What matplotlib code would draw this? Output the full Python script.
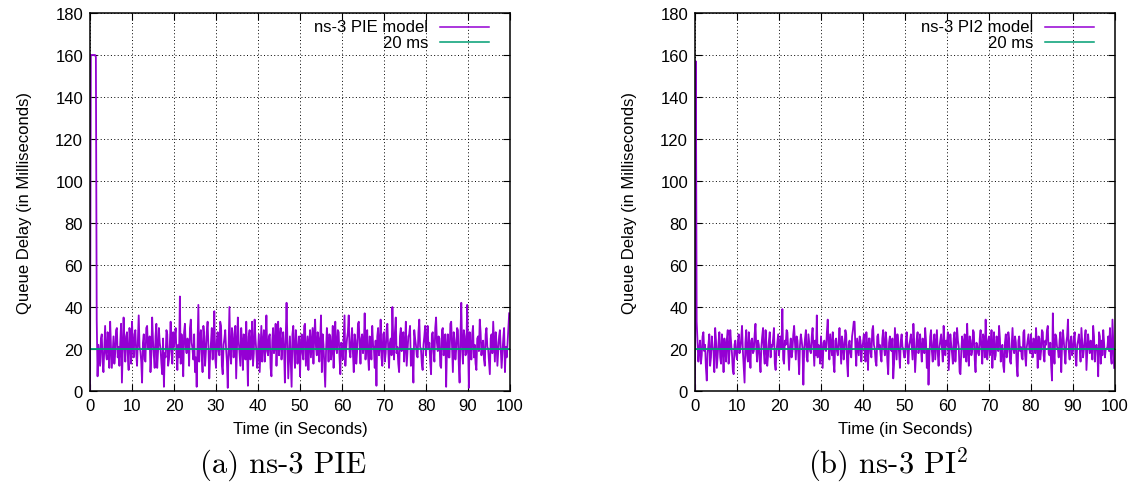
import numpy as np
import matplotlib.pyplot as plt

plt.rcParams['font.family'] = ['Liberation Sans', 'DejaVu Sans']
plt.rcParams['mathtext.fontset'] = 'cm'

# queue delay samples (ms), one every 0.2 s
step = 0.2
pie_delay = [
    0, 160, 160, 160, 160, 160, 160, 159, 34, 7, 22, 17, 12, 25, 27, 14, 9, 20, 31, 18,
    15, 28, 24, 11, 33, 21, 11, 19, 26, 13, 18, 29, 30, 16, 21, 12, 23, 32, 4, 19,
    35, 22, 14, 26, 28, 17, 10, 30, 25, 13,
    33, 22, 16, 27, 29, 18, 12, 24, 36, 21, 19, 14, 4, 23, 27, 15, 14, 30, 31, 20,
    22, 26, 9, 17, 35, 24, 17, 11, 26, 32, 11, 19, 30, 23, 20, 13, 8, 25, 2, 18,
    16, 29, 27, 12, 15, 22, 33, 19, 13, 28,
    21, 26, 30, 17, 10, 22, 16, 45, 13, 27, 19, 7, 28, 32, 21, 18, 25, 24, 12, 30,
    34, 23, 20, 15, 27, 9, 16, 2, 22, 41, 14, 25, 29, 18, 9, 31, 26, 12, 19, 28,
    33, 21, 6, 17, 23, 30, 15, 24, 38, 16,
    11, 24, 28, 19, 17, 33, 31, 12, 8, 22, 25, 29, 20, 14, 1.5, 21, 40, 17, 13, 30,
    27, 16, 22, 31, 6, 20, 35, 24, 18, 12, 30, 23, 10, 27, 24, 15, 33, 19, 2.5, 26,
    29, 15, 21, 33, 12, 18, 34, 25, 19, 11,
    19, 27, 9, 20, 31, 14, 23, 29, 14, 21, 36, 19, 17, 26, 27, 11, 7, 24, 30, 18,
    21, 32, 12, 25, 33, 17, 25, 30, 15, 22, 28, 20, 4, 25, 42, 23, 6, 16, 26, 14,
    2, 27, 31, 19, 11, 29, 24, 13, 20, 26,
    7, 22, 27, 18, 15, 31, 32, 12, 19, 26, 10, 23, 29, 16, 23, 30, 13, 27, 34, 21,
    17, 28, 25, 14, 24, 36, 9, 27, 22, 12, 2, 19, 30, 24, 14, 27, 26, 15, 20, 31,
    11, 24, 33, 20, 18, 29, 28, 16, 8, 23,
    21, 15, 26, 36, 12, 20, 25, 28, 36, 19, 16, 24, 30, 18, 9, 27, 24, 13, 19, 32,
    33, 22, 13, 25, 27, 18, 21, 37, 15, 24, 29, 17, 10, 26, 23, 15, 31, 22, 20, 11,
    24, 2.5, 26, 30, 17, 21, 34, 16, 12, 27,
    28, 14, 18, 29, 32, 20, 11, 23, 25, 17, 40, 24, 15, 28, 35, 18, 21, 13, 9, 26,
    30, 19, 24, 28, 14, 22, 33, 12, 19, 26, 27, 31, 12, 20, 16, 4, 29, 25, 22, 17,
    16, 28, 34, 21, 20, 13, 10, 22, 26, 31,
    17, 25, 31, 20, 23, 14, 8, 27, 28, 19, 14, 30, 35, 23, 19, 26, 25, 12, 11, 29,
    30, 17, 21, 27, 2, 21, 27, 16, 16, 32, 33, 21, 9, 28, 24, 15, 20, 30, 29, 13,
    4, 26, 42, 20, 13, 29, 26, 17, 18, 41,
    24, 1.5, 28, 21, 15, 27, 31, 16, 22, 13, 10, 25, 26, 19, 34, 28, 17, 22, 24, 15,
    12, 27, 30, 21, 20, 14, 8, 25, 27, 18, 33, 23, 14, 28, 23, 12, 19, 26, 29, 20,
    11, 18, 25, 30, 9, 21, 16, 22, 30, 37,
]
pi2_delay = [
    0, 157, 33, 24, 14, 20, 24, 13, 17, 26, 28, 19, 22, 11, 5, 18, 22, 27, 12, 16,
    26, 21, 19, 9, 30, 24, 11, 17, 23, 28, 16, 13, 27, 22, 9, 25, 21, 14, 25, 29,
    13, 18, 29, 23, 18, 10, 8, 22, 24, 17,
    15, 23, 27, 18, 20, 25, 31, 19, 11, 4, 23, 29, 17, 14, 28, 21, 11, 24, 25, 18,
    19, 27, 32, 20, 14, 24, 22, 15, 9, 21, 26, 30, 18, 13, 29, 22, 12, 17, 24, 28,
    16, 22, 21, 25, 30, 13, 10, 19, 23, 27,
    17, 22, 26, 20, 39, 15, 13, 24, 22, 29, 28, 19, 10, 21, 25, 16, 19, 27, 31, 23,
    15, 26, 24, 17, 8, 22, 27, 24, 20, 3, 20, 25, 29, 16, 14, 27, 23, 19, 18, 26,
    30, 21, 12, 24, 17, 36, 16, 22, 21, 13,
    26, 18, 11, 23, 24, 20, 19, 28, 34, 22, 15, 27, 22, 17, 28, 13, 9, 24, 25, 19,
    17, 23, 30, 21, 13, 26, 23, 15, 20, 29, 27, 14, 7, 22, 24, 18, 16, 26, 29, 33,
    33, 20, 12, 25, 21, 17, 26, 24, 14, 21,
    23, 27, 18, 14, 28, 21, 10, 25, 25, 18, 16, 29, 31, 22, 20, 14, 12, 26, 27, 20,
    22, 17, 14, 25, 29, 21, 17, 28, 24, 14, 8, 23, 26, 20, 19, 25, 6, 13, 30, 22,
    15, 27, 23, 18, 11, 24, 27, 21, 20, 16,
    16, 24, 28, 19, 13, 22, 24, 27, 21, 15, 32, 23, 9, 17, 25, 28, 18, 21, 27, 20,
    14, 25, 22, 18, 30, 24, 11, 20, 3, 16, 26, 29, 19, 14, 23, 27, 15, 22, 29, 18,
    12, 21, 24, 27, 20, 14, 31, 23, 17, 24,
    22, 28, 10, 18, 27, 22, 18, 13, 25, 28, 14, 21, 30, 24, 21, 9, 8, 19, 26, 23,
    16, 27, 23, 14, 32, 20, 12, 26, 24, 17, 19, 29, 28, 15, 9, 23, 22, 18, 17, 25,
    29, 20, 13, 27, 25, 16, 34, 21, 15, 24,
    26, 17, 20, 29, 11, 22, 28, 15, 17, 26, 24, 19, 31, 25, 14, 21, 22, 12, 9, 23,
    27, 16, 19, 28, 25, 14, 13, 22, 30, 20, 18, 26, 23, 12, 7, 24, 26, 19, 21, 16,
    15, 28, 29, 17, 12, 21, 24, 27, 20, 18,
    27, 20, 16, 25, 23, 18, 30, 22, 11, 26, 25, 15, 19, 29, 28, 17, 14, 24, 22, 29,
    31, 18, 17, 23, 12, 5, 37, 19, 13, 27, 26, 21, 20, 16, 24, 28, 9, 22, 29, 24,
    18, 13, 23, 26, 34, 19, 15, 24, 26, 17,
    19, 25, 28, 16, 12, 22, 24, 27, 21, 14, 30, 23, 16, 20, 25, 29, 10, 18, 27, 22,
    18, 24, 23, 15, 31, 26, 14, 21, 22, 19, 7, 28, 26, 13, 24, 17, 29, 23, 16, 20,
    20, 21, 26, 19, 30, 17, 13, 34, 22, 11,
]
target_delay = 20

model_names = ['ns-3 PIE model', 'ns-3 PI2 model']
captions = ['(a) ns-3 PIE', '(b) ns-3 PI$^2$']
x_ticks = list(range(0, 101, 10))
y_ticks = list(range(0, 181, 20))

purple = '#9400d3'
teal = '#009e73'
fs = 12

fig = plt.figure(figsize=(11.39, 4.89), dpi=100)
lefts = [90 / 1139, 695 / 1139]
w = 420 / 1139
b = 1 - 392 / 489
h = 378 / 489

for k, delay in enumerate([pie_delay, pi2_delay]):
    ax = fig.add_axes([lefts[k], b, w, h])
    t = np.arange(len(delay)) * step
    ax.plot(t, delay, color=purple, lw=1.3)
    ax.axhline(target_delay, color=teal, lw=1.3)

    ax.set_xlim(0, 100)
    ax.set_ylim(0, 180)
    ax.set_xticks(x_ticks)
    ax.set_yticks(y_ticks)
    ax.tick_params(direction='in', top=True, right=True, length=5, width=0.8,
                   labelsize=fs, pad=5)
    ax.grid(True, color='black', lw=0.7, linestyle=(0, (1, 2.5)))
    for s in ax.spines.values():
        s.set_linewidth(1.1)
    ax.set_xlabel('Time (in Seconds)', fontsize=fs, labelpad=6)
    ax.set_ylabel('Queue Delay (in Milliseconds)', fontsize=fs, labelpad=17)

    # gnuplot style key: right-aligned text, sample line after it
    key_y = [0.963, 0.923]
    ax.text(0.805, key_y[0], model_names[k], transform=ax.transAxes,
            ha='right', va='center', fontsize=fs)
    ax.text(0.805, key_y[1], '20 ms', transform=ax.transAxes,
            ha='right', va='center', fontsize=fs)
    ax.plot([0.833, 0.95], [key_y[0]] * 2, transform=ax.transAxes,
            color=purple, lw=1.1, clip_on=False)
    ax.plot([0.833, 0.95], [key_y[1]] * 2, transform=ax.transAxes,
            color=teal, lw=1.1, clip_on=False)

    cx = (lefts[k] + w / 2) - 17 / 1139
    fig.text(cx, 1 - 465 / 489, captions[k], ha='center', va='center',
             family='cmr10', fontsize=22)

fig.savefig('out.png', dpi=100)
